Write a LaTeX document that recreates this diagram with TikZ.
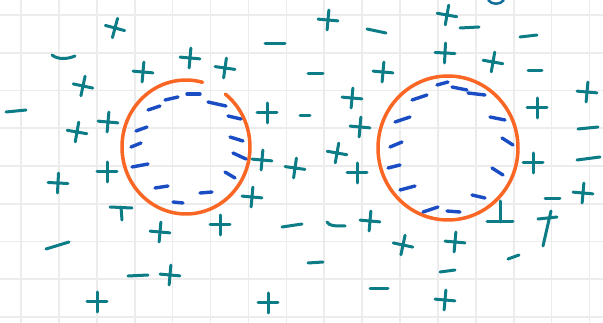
\documentclass[tikz,border=0pt]{standalone}
\usetikzlibrary{calc}
\definecolor{tealink}{RGB}{12,124,134}
\definecolor{blueink}{RGB}{26,76,196}
\definecolor{orangeink}{RGB}{250,102,36}
\definecolor{gridc}{RGB}{236,236,236}
\tikzset{
  sign/.style={draw=tealink, line width=3pt, line cap=round},
  dashb/.style={draw=blueink, line width=3.4pt, line cap=round},
  ring/.style={draw=orangeink, line width=3.5pt, line cap=round},
  gridl/.style={draw=gridc, line width=1.6pt},
  pplus/.pic={\draw[sign] (-10,0) -- (10,0) (0,-10) -- (0,10);},
}
\newcommand\PL[3]{\pic[rotate=#3] at (#1,#2) {pplus};}
\begin{document}
\begin{tikzpicture}[x=1pt,y=-1pt]
\useasboundingbox (0,0) rectangle (603,323);
\fill[white] (0,0) rectangle (603,323);
% grid
\foreach \i in {0,...,15} {\draw[gridl] ({21+37.9*\i},0) -- ({21+37.9*\i},323);}
\foreach \j in {0,...,8} {\draw[gridl] (0,{15+37.75*\j}) -- (603,{15+37.75*\j});}
% orange rings
\draw[ring] (186,147) ++(-52:64 and 67) arc[start angle=-52, end angle=285, x radius=64, y radius=67];
\draw[ring] (448,148) ellipse[x radius=70, y radius=72];
% small arc at top
\draw[draw=tealink!70!blueink, line width=2.5pt] (488,0) .. controls (492,5) and (500,5) .. (504,0);
% blue dashes, left ring
\draw[dashb] (131,147) -- (141,143);
\draw[dashb] (136,131) -- (147,127);
\draw[dashb] (148,110) -- (160,106);
\draw[dashb] (165,100) -- (178,97);
\draw[dashb] (187,94) -- (200,94);
\draw[dashb] (208,102) -- (226,106);
\draw[dashb] (228,116) -- (241,119);
\draw[dashb] (230,137) -- (243,141);
\draw[dashb] (233,153) -- (246,159);
\draw[dashb] (132,167) -- (148,164);
\draw[dashb] (155,188) -- (168,186);
\draw[dashb] (173,202) -- (183,203);
\draw[dashb] (200,193) -- (212,192);
\draw[dashb] (225,172) -- (235,178);
% blue dashes, right ring
\draw[dashb] (390,147) -- (402,142);
\draw[dashb] (395,122) -- (410,117);
\draw[dashb] (412,100) -- (427,95);
\draw[dashb] (437,85) -- (448,82);
\draw[dashb] (452,87) -- (467,90);
\draw[dashb] (468,93) -- (485,95);
\draw[dashb] (490,117) -- (505,120);
\draw[dashb] (502,138) -- (513,145);
\draw[dashb] (388,168) -- (400,165);
\draw[dashb] (400,190) -- (415,186);
\draw[dashb] (423,212) -- (438,207);
\draw[dashb] (447,211) -- (460,212);
\draw[dashb] (472,195) -- (485,198);
\draw[dashb] (492,168) -- (503,175);
% pluses
\PL{115}{28}{-15}
\PL{83}{86}{-12}
\PL{77}{132}{-10}
\PL{108}{122}{-5}
\PL{143}{72}{-5}
\PL{190}{58}{-5}
\PL{225}{68}{-8}
\PL{267}{113}{0}
\PL{328}{20}{-5}
\PL{447}{15}{-10}
\PL{383}{72}{-5}
\PL{445}{53}{-3}
\PL{493}{62}{-10}
\PL{352}{98}{-5}
\PL{360}{127}{-5}
\PL{337}{153}{-10}
\PL{537}{108}{0}
\PL{587}{92}{-5}
\PL{533}{163}{0}
\PL{583}{193}{-5}
\PL{262}{160}{-5}
\PL{295}{168}{-8}
\PL{357}{173}{0}
\PL{252}{197}{-5}
\PL{220}{225}{0}
\PL{370}{221}{-5}
\PL{107}{172}{0}
\PL{58}{183}{-3}
\PL{160}{232}{-5}
\PL{170}{275}{-5}
\PL{97}{302}{0}
\PL{268}{303}{0}
\PL{403}{245}{-12}
\PL{455}{242}{-5}
\PL{445}{300}{-5}
% odd shaped pluses
\draw[sign] (110,207) -- (132,208) (121,207) -- (122,220);
\draw[sign] (487,222) -- (513,222) (500,201) -- (500,222);
\draw[sign] (538,219) -- (557,217) (551,211) -- (543,246);
% minuses
\draw[sign] (52,55) .. controls (58,60) and (68,59) .. (75,56);
\draw[sign] (6,112) -- (26,110);
\draw[sign] (265,44) -- (285,44);
\draw[sign] (367,29) -- (386,33);
\draw[sign] (460,28) -- (479,27);
\draw[sign] (520,37) -- (537,35);
\draw[sign] (308,74) -- (323,74);
\draw[sign] (528,71) -- (542,71);
\draw[sign] (300,116) -- (310,116);
\draw[sign] (578,129) -- (598,127);
\draw[sign] (577,160) -- (600,157);
\draw[sign] (545,199) -- (560,199);
\draw[sign] (508,259) -- (519,255);
\draw[sign] (46,249) -- (69,242);
\draw[sign] (128,276) -- (148,275);
\draw[sign] (282,227) -- (302,224);
\draw[sign] (327,222) .. controls (329,226) and (335,226) .. (345,226);
\draw[sign] (308,263) -- (323,262);
\draw[sign] (440,272) -- (455,270);
\draw[sign] (370,289) -- (388,289);
\end{tikzpicture}
\end{document}
